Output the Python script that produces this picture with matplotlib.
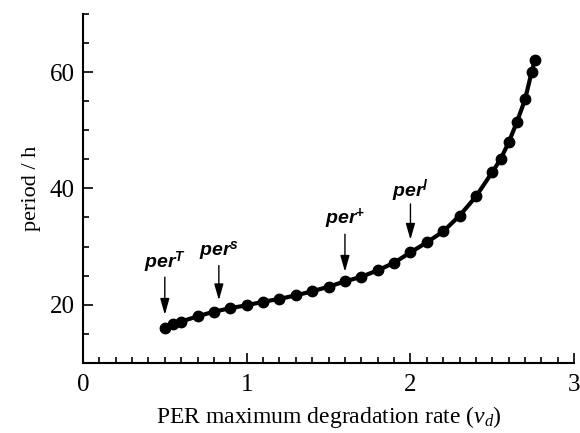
import matplotlib.pyplot as plt
import numpy as np
from matplotlib.ticker import MultipleLocator, FixedLocator

plt.rcParams['font.family'] = 'Liberation Serif'
plt.rcParams['mathtext.fontset'] = 'custom'
plt.rcParams['mathtext.rm'] = 'Liberation Serif'
plt.rcParams['mathtext.it'] = 'Liberation Serif:italic'
plt.rcParams['mathtext.bf'] = 'Liberation Sans:bold'
plt.rcParams['mathtext.bfit'] = 'Liberation Sans:bold:italic'

# PER degradation rate vs period
rate = [0.5, 0.55, 0.6, 0.7, 0.8, 0.9, 1.0, 1.1, 1.2, 1.3, 1.4, 1.5, 1.6, 1.7,
        1.8, 1.9, 2.0, 2.1, 2.2, 2.3, 2.4, 2.5, 2.55, 2.6, 2.65, 2.7, 2.74, 2.76]
period = [16.0, 16.6, 17.1, 18.0, 18.8, 19.4, 19.9, 20.5, 21.0, 21.6, 22.3, 23.1,
          24.0, 24.8, 25.9, 27.2, 29.0, 30.7, 32.6, 35.3, 38.6, 42.8, 45.0, 47.9,
          51.4, 55.3, 60.0, 62.1]

# mutant labels: name, x, text y, arrow start y, arrow tip y
mutants = [r'$\mathbfit{per}^{\mathbfit{T}}$', r'$\mathbfit{per}^{\mathbfit{s}}$',
           r'$\mathbfit{per}^{\mathbf{+}}$', r'$\mathbfit{per}^{\mathbfit{l}}$']
mut_x = [0.5, 0.83, 1.6, 2.0]
mut_text_y = [27.2, 29.1, 34.7, 39.5]
arrow_top = [25.2, 27.2, 32.6, 37.8]
arrow_tip = [17.8, 20.3, 25.2, 30.7]

fig = plt.figure(figsize=(5.8, 4.33), dpi=100)
ax = fig.add_axes([0.143, 0.162, 0.847, 0.806])

ax.plot(rate, period, color='black', lw=3, marker='o', ms=7.5)

for name, x, ty, y0, y1 in zip(mutants, mut_x, mut_text_y, arrow_top, arrow_tip):
    ax.text(x, ty, name, ha='center', va='center', fontsize=14)
    ax.annotate('', xy=(x, y1), xytext=(x, y0),
                arrowprops=dict(arrowstyle='-|>,head_length=0.7,head_width=0.2',
                                color='black', lw=1, mutation_scale=14))

ax.set_xlim(0, 3)
ax.set_ylim(10, 70)
ax.xaxis.set_major_locator(FixedLocator([0, 1, 2, 3]))
ax.xaxis.set_minor_locator(MultipleLocator(0.1))
ax.yaxis.set_major_locator(FixedLocator([20, 40, 60]))
ax.yaxis.set_minor_locator(MultipleLocator(5))
ax.tick_params(which='both', direction='in', labelsize=18, width=1.2)
ax.tick_params(which='major', length=7)
ax.tick_params(which='minor', length=4)
ax.tick_params(axis='x', pad=8)
ax.tick_params(axis='y', pad=6)

for side in ['top', 'right']:
    ax.spines[side].set_visible(False)
for side in ['left', 'bottom']:
    ax.spines[side].set_linewidth(1.5)

ax.set_xlabel(r'PER maximum degradation rate ($\nu_d$)', fontsize=17, labelpad=6)
ax.set_ylabel('period / h', fontsize=16, labelpad=6)

fig.savefig('out.png', dpi=100)
